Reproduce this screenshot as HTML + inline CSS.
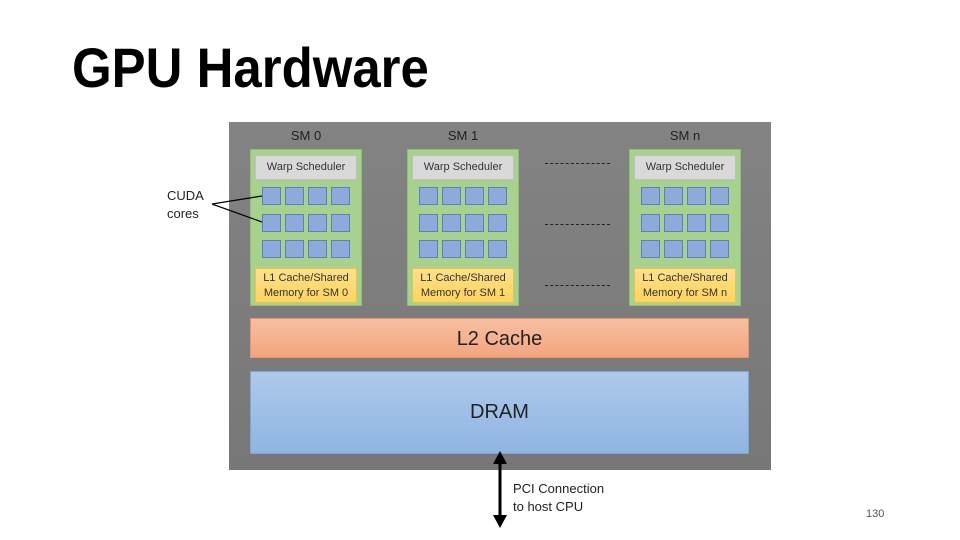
<!DOCTYPE html>
<html><head><style>
body{margin:0;width:960px;height:540px;background:#fff;position:relative;overflow:hidden;font-family:"Liberation Sans",sans-serif}
.a{position:absolute;box-sizing:border-box}
.sm{background:#a9d18e;border:1px solid #8fbf70}
.ws{background:#d9d9d9;border:1px solid #bfbfbf;font-size:11px;color:#333;text-align:center;line-height:23px}
.c{width:19px;height:18px;background:#8eaadb;border:1px solid #5b7fc0}
.l1{background:linear-gradient(#ffe08a,#ffd45e);border:1px solid #e8c05a;font-size:11px;color:#333;text-align:center;line-height:15px;padding-top:2px}
.lbl{font-size:13px;color:#222;text-align:center;width:112px}
.dash{border-top:1px dashed #222;width:65px;height:0}
</style></head><body>
<div class="a" style="left:72px;top:40px;font-size:56px;line-height:56px;font-weight:bold;color:#000;transform:scaleX(0.91);transform-origin:left;white-space:nowrap">GPU Hardware</div>
<div class="a" style="left:229px;top:122px;width:542px;height:348px;background:linear-gradient(#838383,#777)"></div>

<div class="a lbl" style="left:250px;top:128px">SM 0</div>
<div class="a lbl" style="left:407px;top:128px">SM 1</div>
<div class="a lbl" style="left:629px;top:128px">SM n</div>

<div class="a sm" style="left:250px;top:149px;width:112px;height:157px"></div>
<div class="a ws" style="left:255px;top:155px;width:102px;height:25px">Warp Scheduler</div>
<div class="a l1" style="left:255px;top:268px;width:102px;height:35px">L1 Cache/Shared<br>Memory for SM 0</div>
<div class="a sm" style="left:407px;top:149px;width:112px;height:157px"></div>
<div class="a ws" style="left:412px;top:155px;width:102px;height:25px">Warp Scheduler</div>
<div class="a l1" style="left:412px;top:268px;width:102px;height:35px">L1 Cache/Shared<br>Memory for SM 1</div>
<div class="a sm" style="left:629px;top:149px;width:112px;height:157px"></div>
<div class="a ws" style="left:634px;top:155px;width:102px;height:25px">Warp Scheduler</div>
<div class="a l1" style="left:634px;top:268px;width:102px;height:35px">L1 Cache/Shared<br>Memory for SM n</div>

<div class="a c" style="left:262px;top:187px"></div><div class="a c" style="left:285px;top:187px"></div><div class="a c" style="left:308px;top:187px"></div><div class="a c" style="left:331px;top:187px"></div>
<div class="a c" style="left:262px;top:214px"></div><div class="a c" style="left:285px;top:214px"></div><div class="a c" style="left:308px;top:214px"></div><div class="a c" style="left:331px;top:214px"></div>
<div class="a c" style="left:262px;top:240px"></div><div class="a c" style="left:285px;top:240px"></div><div class="a c" style="left:308px;top:240px"></div><div class="a c" style="left:331px;top:240px"></div>
<div class="a c" style="left:419px;top:187px"></div><div class="a c" style="left:442px;top:187px"></div><div class="a c" style="left:465px;top:187px"></div><div class="a c" style="left:488px;top:187px"></div>
<div class="a c" style="left:419px;top:214px"></div><div class="a c" style="left:442px;top:214px"></div><div class="a c" style="left:465px;top:214px"></div><div class="a c" style="left:488px;top:214px"></div>
<div class="a c" style="left:419px;top:240px"></div><div class="a c" style="left:442px;top:240px"></div><div class="a c" style="left:465px;top:240px"></div><div class="a c" style="left:488px;top:240px"></div>
<div class="a c" style="left:641px;top:187px"></div><div class="a c" style="left:664px;top:187px"></div><div class="a c" style="left:687px;top:187px"></div><div class="a c" style="left:710px;top:187px"></div>
<div class="a c" style="left:641px;top:214px"></div><div class="a c" style="left:664px;top:214px"></div><div class="a c" style="left:687px;top:214px"></div><div class="a c" style="left:710px;top:214px"></div>
<div class="a c" style="left:641px;top:240px"></div><div class="a c" style="left:664px;top:240px"></div><div class="a c" style="left:687px;top:240px"></div><div class="a c" style="left:710px;top:240px"></div>

<div class="a dash" style="left:545px;top:163px"></div>
<div class="a dash" style="left:545px;top:224px"></div>
<div class="a dash" style="left:545px;top:285px"></div>

<div class="a" style="left:250px;top:318px;width:499px;height:40px;background:linear-gradient(#f7bfa0,#f2a57f);border:1px solid #e8946a;font-size:20px;color:#222;text-align:center;line-height:40px">L2 Cache</div>
<div class="a" style="left:250px;top:371px;width:499px;height:83px;background:linear-gradient(#adc9ea,#8fb5e2);border:1px solid #7aa6da;font-size:20px;color:#222;text-align:center;padding-top:29px">DRAM</div>

<div class="a" style="left:167px;top:187px;font-size:13px;color:#222;line-height:18px">CUDA<br>cores</div>
<svg class="a" style="left:0;top:0" width="960" height="540">
<line x1="212" y1="204" x2="262" y2="196" stroke="#000" stroke-width="1.2"/>
<line x1="212" y1="204" x2="262" y2="222" stroke="#000" stroke-width="1.2"/>
<line x1="500" y1="462" x2="500" y2="518" stroke="#000" stroke-width="3"/>
<polygon points="500,451 493,464 507,464" fill="#000"/>
<polygon points="500,528 493,515 507,515" fill="#000"/>
</svg>
<div class="a" style="left:513px;top:480px;font-size:13px;color:#222;line-height:18px">PCI Connection<br>to host CPU</div>
<div class="a" style="left:866px;top:508px;font-size:11px;color:#555">130</div>
</body></html>
